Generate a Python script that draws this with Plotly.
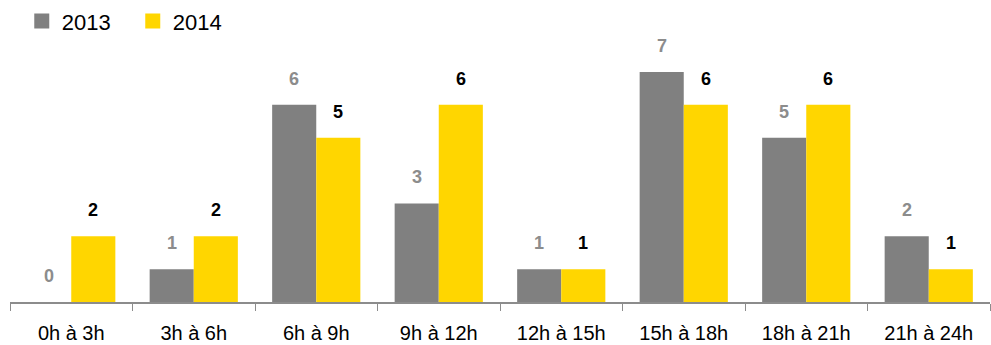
import plotly.graph_objects as go

categories = ["0h à 3h", "3h à 6h", "6h à 9h", "9h à 12h",
              "12h à 15h", "15h à 18h", "18h à 21h", "21h à 24h"]
values_2013 = [0, 1, 6, 3, 1, 7, 5, 2]
values_2014 = [2, 2, 5, 6, 1, 6, 6, 1]

FONT = "Liberation Sans, Arial, sans-serif"
GRAY = "#808080"
YELLOW = "#FFD600"

fig = go.Figure()
fig.add_trace(
    go.Bar(
        x=categories,
        y=values_2013,
        name="2013",
        marker=dict(color=GRAY, line=dict(width=0)),
        showlegend=False,
    )
)
fig.add_trace(
    go.Bar(
        x=categories,
        y=values_2014,
        name="2014",
        marker=dict(color=YELLOW, line=dict(width=0)),
        showlegend=False,
    )
)

# legend entries with bigger square swatches
for name, color in [("2013", GRAY), ("2014", YELLOW)]:
    fig.add_trace(
        go.Scatter(
            x=[None],
            y=[None],
            mode="markers",
            name=name,
            marker=dict(symbol="square", size=15, color=color),
        )
    )

# value labels above the bars
for cat, v13, v14 in zip(categories, values_2013, values_2014):
    for val, shift, color in [(v13, -22, "#8c8c8c"), (v14, 22, "#000000")]:
        fig.add_annotation(
            x=cat,
            y=val,
            xref="x",
            yref="y",
            text=f"<b>{val}</b>",
            showarrow=False,
            xshift=shift,
            yanchor="bottom",
            yshift=14,
            font=dict(family=FONT, size=18, color=color),
        )

fig.update_layout(
    width=991,
    height=345,
    barmode="group",
    bargap=0.28,
    bargroupgap=0,
    plot_bgcolor="white",
    paper_bgcolor="white",
    font=dict(family=FONT, size=20, color="#000000"),
    margin=dict(l=10, r=1, t=39, b=43, autoexpand=False),
    showlegend=True,
    legend=dict(
        orientation="h",
        x=0.012,
        y=1.068,
        xanchor="left",
        yanchor="middle",
        font=dict(family=FONT, size=22, color="#000000"),
        entrywidth=66,
        entrywidthmode="pixels",
        traceorder="normal",
        itemsizing="trace",
    ),
)
fig.update_xaxes(
    showline=True,
    linecolor="#8c8c8c",
    linewidth=1.5,
    ticks="outside",
    tickson="boundaries",
    ticklen=7,
    tickcolor="#8c8c8c",
    ticklabelstandoff=12,
    tickfont=dict(family=FONT, size=20, color="#000000"),
    showgrid=False,
)
fig.update_yaxes(
    range=[0, 8],
    visible=False,
    showgrid=False,
    zeroline=False,
)

# drop the default page margin so the figure sits at the window's corner
fig.write_html(
    "out.html",
    config={"displayModeBar": False},
    post_script="document.body.style.margin='0';",
)
